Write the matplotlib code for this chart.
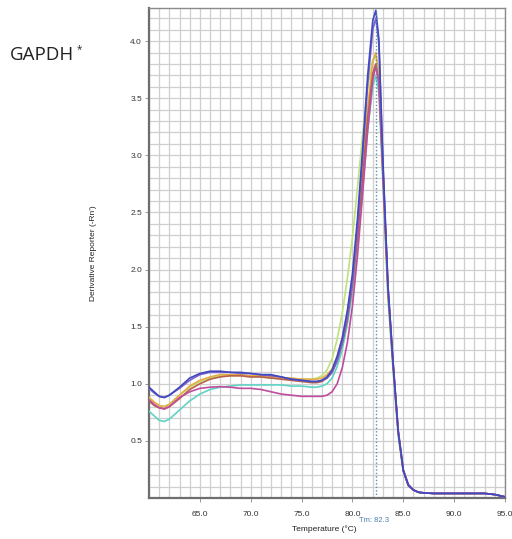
import matplotlib
matplotlib.use("Agg")
import matplotlib.pyplot as plt
from matplotlib.ticker import MultipleLocator, FixedLocator

plt.rcParams['font.family'] = ['Liberation Sans', 'DejaVu Sans']

# Melt-curve data: temperature (°C) and derivative reporter (-Rn') per well
temperature = [60, 60.5, 61, 61.5, 62, 63, 64, 65, 66, 67, 68, 69, 70, 71, 72, 73,
               74, 75, 76, 76.5, 77, 77.5, 78, 78.5, 79, 79.5, 80, 80.5, 81, 81.5,
               82, 82.3, 82.6, 83, 83.5, 84, 84.5, 85, 85.5, 86, 86.5, 87, 88, 89,
               90, 91, 92, 93, 94, 95]

well_blue = [0.97, 0.93, 0.89, 0.88, 0.90, 0.97, 1.05, 1.09, 1.11, 1.11, 1.10, 1.10, 1.09,
             1.08, 1.08, 1.06, 1.04, 1.03, 1.02, 1.02, 1.03, 1.06, 1.12, 1.24, 1.40, 1.64,
             1.96, 2.45, 3.05, 3.70, 4.18, 4.27, 4.02, 2.95, 1.85, 1.18, 0.58, 0.24, 0.11,
             0.07, 0.05, 0.045, 0.04, 0.04, 0.04, 0.04, 0.04, 0.04, 0.03, 0.01]
well_purple = [0.96, 0.92, 0.89, 0.88, 0.90, 0.96, 1.03, 1.08, 1.10, 1.10, 1.10, 1.09, 1.09,
               1.08, 1.07, 1.06, 1.04, 1.03, 1.02, 1.02, 1.03, 1.05, 1.10, 1.20, 1.36, 1.58,
               1.90, 2.38, 2.98, 3.62, 4.10, 4.20, 3.98, 2.92, 1.84, 1.17, 0.58, 0.24, 0.11,
               0.07, 0.05, 0.045, 0.04, 0.04, 0.04, 0.04, 0.04, 0.04, 0.03, 0.01]
well_green = [0.88, 0.84, 0.81, 0.80, 0.82, 0.90, 0.97, 1.02, 1.05, 1.07, 1.07, 1.07, 1.06,
              1.06, 1.05, 1.05, 1.04, 1.04, 1.04, 1.05, 1.07, 1.12, 1.22, 1.39, 1.62, 1.92,
              2.28, 2.72, 3.18, 3.60, 3.84, 3.86, 3.70, 2.80, 1.76, 1.12, 0.55, 0.23, 0.11,
              0.07, 0.05, 0.045, 0.04, 0.04, 0.04, 0.04, 0.04, 0.04, 0.03, 0.01]
well_orange = [0.88, 0.84, 0.81, 0.80, 0.82, 0.90, 0.98, 1.03, 1.06, 1.08, 1.08, 1.08, 1.07,
               1.07, 1.06, 1.05, 1.05, 1.04, 1.04, 1.04, 1.05, 1.08, 1.13, 1.24, 1.40, 1.62,
               1.92, 2.35, 2.88, 3.42, 3.82, 3.90, 3.72, 2.85, 1.80, 1.15, 0.57, 0.24, 0.11,
               0.07, 0.05, 0.045, 0.04, 0.04, 0.04, 0.04, 0.04, 0.04, 0.03, 0.01]
well_brown = [0.85, 0.81, 0.79, 0.78, 0.80, 0.87, 0.95, 1.00, 1.04, 1.06, 1.07, 1.07, 1.06,
              1.06, 1.05, 1.04, 1.03, 1.02, 1.01, 1.01, 1.02, 1.05, 1.10, 1.20, 1.35, 1.56,
              1.86, 2.28, 2.80, 3.33, 3.72, 3.80, 3.64, 2.82, 1.80, 1.16, 0.58, 0.24, 0.11,
              0.07, 0.05, 0.045, 0.04, 0.04, 0.04, 0.04, 0.04, 0.04, 0.03, 0.01]
well_cyan = [0.76, 0.72, 0.68, 0.67, 0.69, 0.77, 0.85, 0.91, 0.95, 0.97, 0.98, 0.99, 0.99,
             0.99, 0.99, 0.99, 0.98, 0.98, 0.97, 0.97, 0.98, 1.00, 1.05, 1.15, 1.30, 1.52,
             1.80, 2.20, 2.70, 3.22, 3.60, 3.70, 3.55, 2.75, 1.75, 1.12, 0.55, 0.23, 0.11,
             0.07, 0.05, 0.045, 0.04, 0.04, 0.04, 0.04, 0.04, 0.04, 0.03, 0.01]
well_magenta = [0.86, 0.82, 0.79, 0.78, 0.80, 0.88, 0.93, 0.96, 0.97, 0.975, 0.97, 0.96, 0.96,
                0.95, 0.93, 0.91, 0.90, 0.89, 0.89, 0.89, 0.89, 0.90, 0.93, 1.00, 1.14, 1.36,
                1.68, 2.12, 2.66, 3.22, 3.66, 3.78, 3.64, 2.86, 1.84, 1.19, 0.60, 0.25, 0.12,
                0.07, 0.05, 0.045, 0.04, 0.04, 0.04, 0.04, 0.04, 0.04, 0.03, 0.01]

tm_value = 82.3
x_ticks = [65.0, 70.0, 75.0, 80.0, 85.0, 90.0, 95.0]
y_ticks = [0.5, 1.0, 1.5, 2.0, 2.5, 3.0, 3.5, 4.0]

series = [
    (well_cyan, '#5fd3c6'),
    (well_green, '#bfe27a'),
    (well_orange, '#e6ac45'),
    (well_brown, '#b8604a'),
    (well_magenta, '#c04c9e'),
    (well_purple, '#7c62c8'),
    (well_blue, '#4048c0'),
]

fig = plt.figure(figsize=(5.12, 5.39), dpi=100)
ax = fig.add_axes([149 / 512, 41 / 539, 356 / 512, 490 / 539])

ax.set_xlim(60.0, 95.0)
ax.set_ylim(0.0, 4.29)

# fine grid: 1 °C by 0.1 units
ax.xaxis.set_minor_locator(MultipleLocator(1.0))
ax.yaxis.set_minor_locator(MultipleLocator(0.1))
ax.grid(which='both', color='#cfcfcf', linewidth=0.9)
ax.set_axisbelow(True)

for values, color in series:
    ax.plot(temperature, values, color=color, linewidth=1.2, zorder=3)

ax.axvline(tm_value, color='#5b8fae', linestyle=(0, (1, 1.5)), linewidth=1.0, zorder=4)

ax.xaxis.set_major_locator(FixedLocator(x_ticks))
ax.yaxis.set_major_locator(FixedLocator(y_ticks))
ax.set_xticklabels([f'{v:.1f}' for v in x_ticks])
ax.set_yticklabels([f'{v:.1f}' for v in y_ticks])
ax.tick_params(which='major', length=3, width=0.6, color='#888888',
               labelsize=6, labelcolor='#333333')
ax.tick_params(axis='x', which='major', pad=6)
ax.tick_params(axis='y', which='major', pad=2)
ax.tick_params(which='minor', length=0)

for side in ['left', 'bottom']:
    ax.spines[side].set_color('#6e6e6e')
    ax.spines[side].set_linewidth(1.6)
for side in ['top', 'right']:
    ax.spines[side].set_color('#8a8a8a')
    ax.spines[side].set_linewidth(1.0)

ax.set_ylabel("Derivative Reporter (-Rn')", fontsize=6, color='#222222', labelpad=24)

fig.text(324 / 512, 1 - 529 / 539, 'Temperature (°C)', fontsize=6, color='#222222',
         ha='center', va='center')
fig.text(374 / 512, 1 - 521 / 539, f'Tm: {tm_value}', fontsize=5.5, color='#4a7fb5',
         ha='center', va='center')

fig.text(10 / 512, 1 - 55 / 539, 'GAPDH', fontsize=13.5, color='#222222',
         ha='left', va='center', family=['Open Sans', 'DejaVu Sans'])
fig.text(77 / 512, 1 - 50 / 539, '*', fontsize=7, color='#222222',
         ha='left', va='center', family=['Open Sans', 'DejaVu Sans'])

fig.savefig('out.png', dpi=100, facecolor='white')
